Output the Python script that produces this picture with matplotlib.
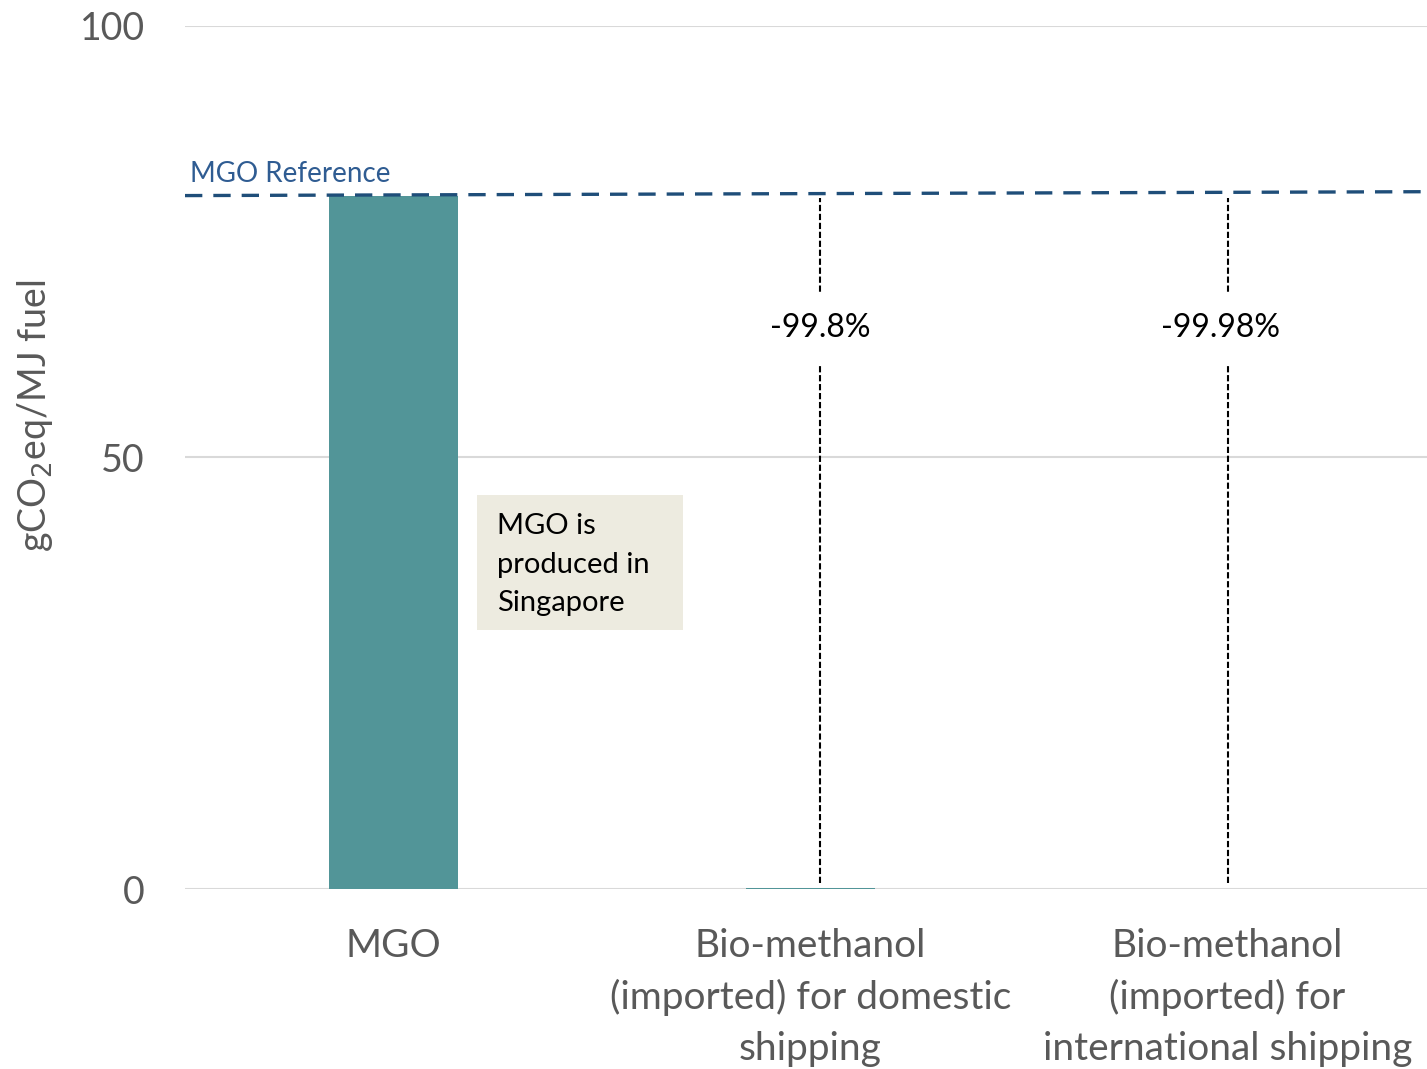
import matplotlib
matplotlib.use("Agg")
import matplotlib.pyplot as plt
from matplotlib.patches import Rectangle

plt.rcParams["font.family"] = ["Lato", "DejaVu Sans"]

# Data
categories = ["MGO",
              "Bio-methanol\n(imported) for domestic\nshipping",
              "Bio-methanol\n(imported) for\ninternational shipping"]
emissions = [80.3, 0.16, 0.016]          # gCO2eq/MJ fuel
reduction_labels = ["", "-99.8%", "-99.98%"]
y_ticks = [0, 50, 100]

BAR_COLOR = "#529598"
REF_COLOR = "#1F4E79"
REF_TEXT = "#2F5C92"
GRID = "#D9D9D9"
TXT = "#595959"

fig = plt.figure(figsize=(14.27, 10.69), dpi=100)
ax = fig.add_axes([185 / 1427, 1 - 889 / 1069, 1 - 185 / 1427, (889 - 26) / 1069])

x = list(range(len(categories)))
ax.bar(x, emissions, width=0.31, color=BAR_COLOR, zorder=3)

xmax = -0.5 + (1427 - 185) / 417
ax.set_xlim(-0.5, xmax)
ax.set_ylim(0, 100)

# grid and axes styling
ax.set_yticks(y_ticks)
ax.yaxis.grid(True, color=GRID, linewidth=1.5, zorder=0)
for s in ax.spines.values():
    s.set_visible(False)
ax.tick_params(axis="y", length=0, colors=TXT, labelsize=27, pad=29)
ax.tick_params(axis="x", length=0, colors=TXT, labelsize=28, pad=28)
ax.set_xticks(x)
ax.set_xticklabels(categories, linespacing=1.51)
ax.set_ylabel("gCO$_2$eq/MJ fuel", fontsize=27, color=TXT)
ax.yaxis.set_label_coords(-0.1047, 0.548)

# MGO reference line
ref = emissions[0]
ax.plot([-0.5, xmax], [ref + 0.05, ref + 0.5], color=REF_COLOR, linewidth=2.4,
        linestyle=(0, (5.2, 3.3)), zorder=4, solid_capstyle="butt")
ax.text(-0.488, ref + 1.1, "MGO Reference", color=REF_TEXT, fontsize=20,
        ha="left", va="bottom")

# reduction markers
marker_x = [None, 1.023, 2.0]
for i in (1, 2):
    ax.plot([marker_x[i], marker_x[i]], [0.7, ref - 0.2], color="black",
            linewidth=1.5, linestyle=(0, (3, 1.3)), zorder=4)
    ax.text(marker_x[i] - (0.017 if i == 2 else 0), 65.0, reduction_labels[i],
            fontsize=23, color="black", ha="center", va="center", zorder=5,
            bbox=dict(facecolor="white", edgecolor="none", pad=15))

# note box
ax.add_patch(Rectangle((0.2, 30.0), 0.494, 15.65, facecolor="#EDEBE0",
                       edgecolor="none", zorder=3))
ax.text(0.248, 37.6, "MGO is\nproduced in\nSingapore", fontsize=21,
        color="black", ha="left", va="center", linespacing=1.6, zorder=4)

fig.savefig("out.png", dpi=100)
